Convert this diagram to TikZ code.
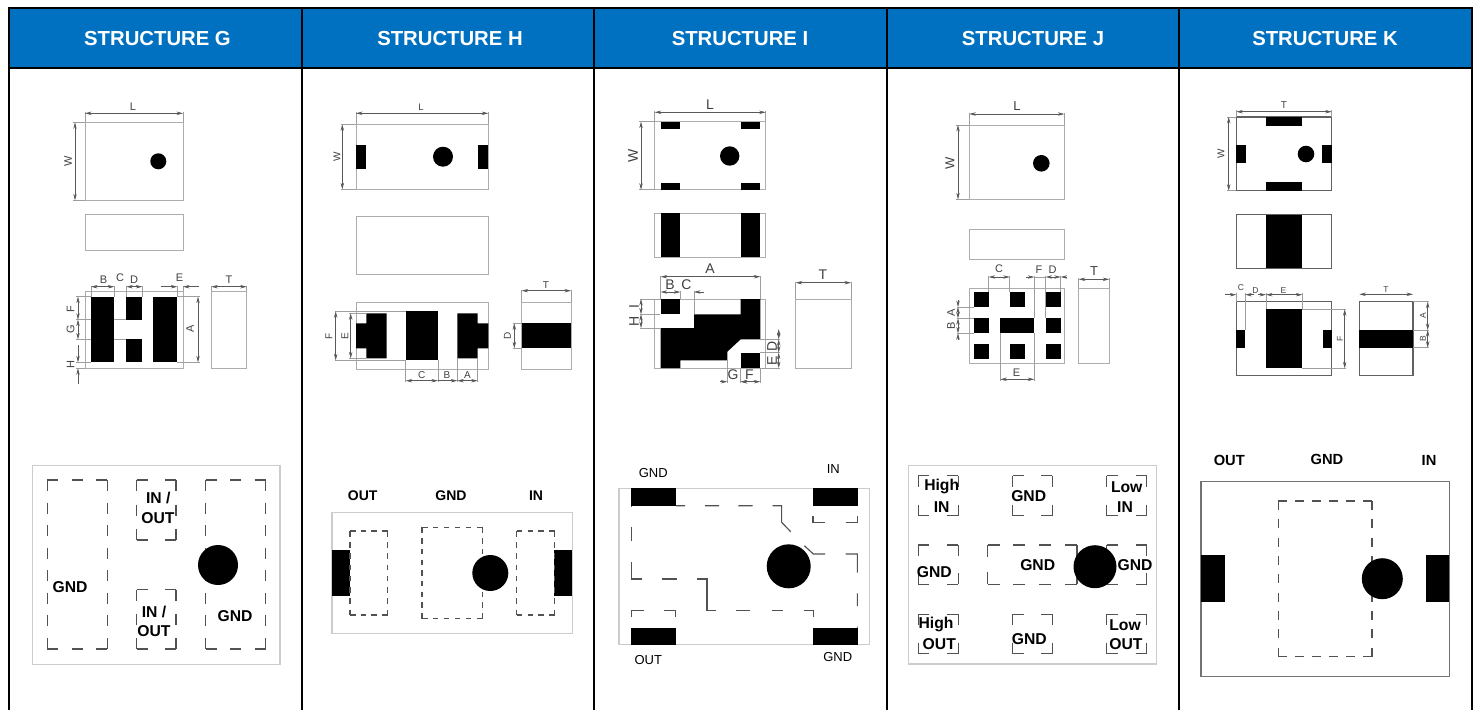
\documentclass[tikz,border=0pt]{standalone}
\usepackage{fontspec}
\setmainfont{Liberation Sans}
\usetikzlibrary{arrows.meta}
\definecolor{hdr}{HTML}{0070C0}
\tikzset{
 outl/.style={draw=black!32,line width=.9pt},
 outk/.style={draw=black!62,line width=1.1pt},
 boxl/.style={draw=black!20,line width=1.1pt},
 dimln/.style={draw=black!65,line width=.55pt,{Stealth[length=6.5pt,width=3.4pt]}-{Stealth[length=6.5pt,width=3.4pt]}},
 dimo/.style={draw=black!65,line width=.55pt,-{Stealth[length=6.5pt,width=3.4pt]}},
 extl/.style={draw=black!38,line width=.5pt},
 dl/.style={inner sep=0pt,text=black!75,font=\fontsize{#1}{#1}\selectfont},
 dr/.style={inner sep=0pt,text=black!75,rotate=90,font=\fontsize{#1}{#1}\selectfont},
 pl/.style={inner sep=0pt,text=black,font=\fontsize{#1}{#1}\selectfont\bfseries},
 pr/.style={inner sep=0pt,text=black,font=\fontsize{#1}{#1}\selectfont},
 hd/.style={inner sep=0pt,text=white,font=\fontsize{20.3}{20.3}\selectfont\bfseries},
 dashln/.style={draw=black!68,line width=1.15pt},
 frame/.style={draw=black,line width=2pt},
}
% one side of a dashed box: starts and ends with a dash
\newcommand\dseg[5]{%
 \pgfmathsetmacro\seglen{veclen(#4-#2,#5-#3)}%
 \pgfmathsetmacro\segn{max(2,round((\seglen+#1)/(2*#1)))}%
 \pgfmathsetmacro\seggap{(\seglen-\segn*#1)/(\segn-1)}%
 \draw[dashln,dash pattern=on #1pt off \seggap pt] (#2,#3) -- (#4,#5);}
\newcommand\drect[5]{%
 \dseg{#1}{#2}{#3}{#4}{#3}\dseg{#1}{#2}{#5}{#4}{#5}%
 \dseg{#1}{#2}{#3}{#2}{#5}\dseg{#1}{#4}{#3}{#4}{#5}}
\newcommand\dotc[3]{\fill[black] (#1,#2) circle[radius=#3pt];}
\newcommand\pad[4]{\fill[black] (#1,#2) rectangle (#3,#4);}
\begin{document}
\begin{tikzpicture}[x=1pt,y=-1pt]
\useasboundingbox (0,0) rectangle (1477,710);
\fill[white] (0,0) rectangle (1477,710);
% header
\fill[hdr] (9,8) rectangle (1472,68);
\draw[frame] (9,8) -- (1472,8);
\draw[frame] (9,68) -- (1472,68);
\foreach \x in {9,302,594,887,1179,1472}{\draw[frame] (\x,7) -- (\x,710);}
\node[hd] (hG) at (157.5,38.5) {STRUCTURE G};
\node[hd] (hH) at (450,38.5) {STRUCTURE H};
\node[hd] (hI) at (740,38.5) {STRUCTURE I};
\node[hd] (hJ) at (1033,38.5) {STRUCTURE J};
\node[hd] (hK) at (1325,38.5) {STRUCTURE K};

% ---------- G ----------
\draw[outl] (85,122.3) rectangle (183,200.3);
\dotc{158.3}{161.3}{8}
\draw[extl] (85,112)--(85,122) (183,112)--(183,122) (73,122.3)--(85,122.3) (73,200.3)--(85,200.3);
\draw[dimln] (85,113.3)--(183,113.3);
\draw[dimln] (75,122.3)--(75,200.3);
\node[dl=11] at (133,107) {L};
\node[dr=11] at (68,161) {W};
\draw[outl] (85,214.7) rectangle (183,250.3);
\draw[outl] (85,291) rectangle (183,368.3);
\pad{91}{296.7}{114.3}{362.3}
\pad{126.3}{296.7}{142.3}{319.7}
\pad{126.3}{339.3}{142.3}{362.3}
\pad{153.3}{296.7}{177.3}{362.3}
\draw[outl] (211.3,291) rectangle (246.7,368.3);
\draw[extl] (91,286)--(91,297) (114.3,286)--(114.3,297) (126.3,286)--(126.3,297) (142.3,286)--(142.3,297) (177.3,286)--(177.3,297) (183,286)--(183,291) (211.3,286)--(211.3,291) (246.7,286)--(246.7,291);
\draw[extl] (177,296.7)--(200,296.7) (177,362.3)--(200,362.3);
\draw[extl] (76,296.7)--(91,296.7) (76,319.7)--(91,319.7) (114.3,319.7)--(126.3,319.7) (76,339.3)--(91,339.3) (114.3,339.3)--(126.3,339.3) (76,362.3)--(91,362.3) (76,368.3)--(85,368.3);
\draw[dimln] (91,286.7)--(114.3,286.7);
\draw[dimln] (126.3,286.7)--(142.3,286.7);
\draw[dimo] (160.7,286.7)--(177.3,286.7);
\draw[dimo] (199,286.7)--(183,286.7);
\draw[dimln] (211.3,286.7)--(246.7,286.7);
\draw[dimln] (198,296.7)--(198,362.3);
\draw[dimln] (78,296.7)--(78,319.7);
\draw[dimln] (78,319.7)--(78,339.3);
\draw[dimo] (78,345)--(78,362.3);
\draw[dimo] (78,384)--(78,368.3);
\node[dl=11] at (103.5,279.5) {B};
\node[dl=11] at (120,278) {C};
\node[dl=11] at (134,279.5) {D};
\node[dl=11] at (179.5,278) {E};
\node[dl=11] at (229,279.5) {T};
\node[dr=11] at (190,329) {A};
\node[dr=11] at (70.5,309) {F};
\node[dr=11] at (70.5,329) {G};
\node[dr=11] at (70.5,365) {H};
% pinout G
\draw[boxl] (32.7,465.7) rectangle (280,664.3);
\drect{11}{47.3}{480}{107.3}{649}
\drect{11}{136.7}{480}{176}{540}
\drect{11}{136.7}{589.7}{176}{649}
\drect{11}{205.7}{480}{265.7}{649}
\dotc{218}{565}{20}
\node[pl=15.7] at (70,587.3) {GND};
\node[pl=15.7] at (158.3,498.3) {IN /};
\node[pl=15.7] at (158,518) {OUT};
\node[pl=15.7] at (154,611.7) {IN /};
\node[pl=15.7] at (154,630.7) {OUT};
\node[pl=15.7] at (235,616) {GND};

% ---------- H ----------
\draw[outl] (356,124.3) rectangle (488.3,189.3);
\pad{356}{144.7}{366.3}{169.3}
\pad{477.7}{144.7}{488.3}{169.3}
\dotc{443}{156.7}{10}
\draw[extl] (356,112)--(356,124) (488.3,112)--(488.3,124) (341,124.3)--(356,124.3) (341,189.3)--(356,189.3);
\draw[dimln] (356,113.3)--(488.3,113.3);
\draw[dimln] (342.3,124.3)--(342.3,189.3);
\node[dl=9.5] at (421,107) {L};
\node[dr=10] at (337,157) {W};
\draw[outl] (356,216.7) rectangle (488.3,274.3);
\draw[outl] (356,302.3) rectangle (488.3,369);
\fill[black] (356,323.3)--(366.3,323.3)--(366.3,313.3)--(386.7,313.3)--(386.7,358.3)--(366.3,358.3)--(366.3,348.3)--(356,348.3)--cycle;
\pad{405.7}{311.3}{438}{360.3}
\fill[black] (488.3,323.3)--(477.7,323.3)--(477.7,313.3)--(457.3,313.3)--(457.3,358.3)--(477.7,358.3)--(477.7,348.3)--(488.3,348.3)--cycle;
\draw[outl] (521.7,302.3) rectangle (571,369);
\pad{521.7}{323.3}{571}{348.3}
\draw[extl] (521.7,290)--(521.7,302) (571,290)--(571,302) (513,323.3)--(522,323.3) (513,348.3)--(522,348.3);
\draw[dimln] (521.7,290.7)--(571,290.7);
\draw[dimln] (514.3,323.3)--(514.3,348.3);
\node[dl=10] at (546,285) {T};
\node[dr=10] at (507.5,336) {D};
\draw[extl] (335,311.3)--(405.7,311.3) (335,360.3)--(405.7,360.3) (349,313.3)--(366,313.3) (349,358.3)--(366,358.3);
\draw[dimln] (335.7,311.3)--(335.7,360.3);
\draw[dimln] (350.7,313.3)--(350.7,358.3);
\node[dr=10] at (329,336) {F};
\node[dr=10] at (345,336) {E};
\draw[extl] (405.7,360)--(405.7,382) (438,360)--(438,382) (457.3,358)--(457.3,382) (477.7,358)--(477.7,382);
\draw[dimln] (405.7,380.7)--(438,380.7);
\draw[dimo] (438,380.7)--(457.3,380.7);
\draw[dimln] (457.3,380.7)--(477.7,380.7);
\node[dl=10] at (421.7,375) {C};
\node[dl=10] at (447,375) {B};
\node[dl=10] at (467.5,375) {A};
% pinout H
\draw[boxl] (332,512.3) rectangle (572.3,633.7);
\pad{332}{550.3}{350}{595.7}
\pad{554.3}{550.3}{572.3}{595.7}
\drect{5.5}{350}{531}{387.7}{615}
\drect{5.5}{422}{527.3}{482.3}{618.7}
\drect{5.5}{516.7}{531}{554.7}{615}
\dotc{490.3}{573}{18}
\node[pl=14] at (362.7,496) {OUT};
\node[pl=14] at (451,496) {GND};
\node[pl=14] at (536,496) {IN};

% ---------- I ----------
\draw[outl] (654.7,121.7) rectangle (765.7,189.7);
\pad{660.7}{121.7}{680.3}{129.3}
\pad{740.7}{121.7}{760.3}{129.3}
\pad{660.7}{182.7}{680.3}{189.7}
\pad{740.7}{182.7}{760.3}{189.7}
\dotc{729.7}{156}{9.7}
\draw[extl] (654.7,111)--(654.7,121) (765.7,111)--(765.7,121) (639,121.7)--(655,121.7) (639,189.7)--(655,189.7);
\draw[dimln] (654.7,112.3)--(765.7,112.3);
\draw[dimln] (641,121.7)--(641,189.7);
\node[dl=14] at (710,105) {L};
\node[dr=14] at (633,156) {W};
\draw[outl] (654.7,213) rectangle (765.7,257);
\pad{660.7}{213}{680.3}{257}
\pad{740.7}{213}{760.3}{257}
\draw[outl] (654.7,299) rectangle (765.7,368);
\pad{660.7}{299}{680.3}{314.3}
\fill[black] (660.7,328)--(694,328)--(694,314.3)--(740.7,314.3)--(740.7,299)--(760.3,299)--(760.3,339.3)--(740.7,339.3)--(727.3,351.7)--(727.3,360.3)--(680.3,360.3)--(680.3,368)--(660.7,368)--cycle;
\pad{740.7}{352.7}{760.3}{368}
\draw[outl] (795.7,299) rectangle (851,368);
\draw[extl] (795.7,282)--(795.7,299) (851,282)--(851,299) (660.7,276)--(660.7,299) (760.3,276)--(760.3,299) (680.3,291)--(680.3,299) (694,291)--(694,314);
\draw[dimln] (795.7,282.7)--(851,282.7);
\draw[dimln] (660.7,276.7)--(760.3,276.7);
\draw[dimln] (660.7,292)--(680.3,292);
\draw[dimo] (704,292)--(694,292);
\node[dl=14] at (823,275) {T};
\node[dl=14] at (710,269) {A};
\node[dl=14] at (670,285) {B};
\node[dl=14] at (686.5,285) {C};
\draw[extl] (640,299)--(660,299) (640,314.3)--(660,314.3) (640,328)--(660,328);
\draw[dimln] (641,299)--(641,314.3);
\draw[dimln] (641,314.3)--(641,328);
\node[dr=14] at (634,307) {I};
\node[dr=14] at (634,321) {H};
\draw[extl] (760,339.3)--(780,339.3) (760,352.7)--(780,352.7) (760,368)--(780,368);
\draw[dimln] (778.7,329)--(778.7,339.3);
\draw[dimln] (778.7,339.3)--(778.7,352.7);
\draw[dimln] (778.7,352.7)--(778.7,368);
\node[dr=14] at (772,346) {D};
\node[dr=14] at (772,361) {E};
\draw[extl] (727.3,360)--(727.3,383) (740.7,368)--(740.7,383) (760.3,368)--(760.3,383);
\draw[dimo] (720,381.7)--(727.3,381.7);
\draw[dimo] (748,381.7)--(740.7,381.7);
\draw[dimln] (740.7,381.7)--(760.3,381.7);
\node[dl=14] at (733,375) {G};
\node[dl=14] at (749.5,375) {F};
% pinout I
\draw[boxl] (619,488.3) rectangle (869.7,644.7);
\pad{631}{488.3}{676}{505.7}
\pad{813}{488.3}{857.7}{505.7}
\pad{631}{627.7}{676}{644.7}
\pad{813}{627.7}{857.7}{644.7}
\begin{scope}[shift={(595,450)},x=.33333pt,y=-.33333pt]
\draw[dashln] (243,167)--(270,167) (330,167)--(372,167) (430,167)--(473,167) (533,167)--(560,167)--(560,217)--(587,245);
\draw[dashln] (628,287)--(655,312)--(690,312) (752,312)--(787,312)--(787,368) (787,430)--(787,468) (787,530)--(787,533);
\draw[dashln] (656,500)--(656,481)--(628,481) (530,481)--(565,481) (423,481)--(465,481) (362,481)--(336,481)--(336,387)--(305,387) (200,387)--(245,387) (142,387)--(110,387)--(110,335) (110,232)--(110,272) (110,167)--(110,172);
\draw[dashln] (654,198)--(654,218)--(690,218) (752,218)--(787,218)--(787,198);
\draw[dashln] (110,500)--(110,481)--(147,481) (207,481)--(241,481)--(241,500);
\end{scope}
\dotc{788.7}{566.3}{22}
\node[pr=13] at (653.3,473.3) {GND};
\node[pr=13] at (833.3,469) {IN};
\node[pr=13] at (648.3,660) {OUT};
\node[pr=13] at (837.7,656.7) {GND};

% ---------- J ----------
\draw[outl] (969.3,125) rectangle (1064.3,199.3);
\dotc{1041.3}{163.3}{8.3}
\draw[extl] (969.3,113)--(969.3,125) (1064.3,113)--(1064.3,125) (956,125)--(969,125) (956,199.3)--(969,199.3);
\draw[dimln] (969.3,114)--(1064.3,114);
\draw[dimln] (958,125)--(958,199.3);
\node[dl=13] at (1017,106) {L};
\node[dr=13] at (950,163) {W};
\draw[outl] (969.3,229.3) rectangle (1064.3,259.3);
\draw[outl] (969.3,288.3) rectangle (1064.3,363.3);
\foreach \xa/\xb in {973.7/988.7,1009.7/1024.7,1045.7/1060.7}{
 \pad{\xa}{291.7}{\xb}{307}
 \pad{\xa}{344.3}{\xb}{359.3}}
\pad{973.7}{318.3}{988.7}{333.3}
\pad{1000.3}{318.3}{1034.3}{333.3}
\pad{1045.7}{318.3}{1060.7}{333.3}
\draw[outl] (1078.7,288.3) rectangle (1109.3,363.3);
\draw[extl] (1078.7,278)--(1078.7,288) (1109.3,278)--(1109.3,288) (988.7,276)--(988.7,292) (1009.7,276)--(1009.7,292) (1034.3,276)--(1034.3,318) (1045.7,276)--(1045.7,318) (1060.7,276)--(1060.7,292);
\draw[dimln] (1078.7,279.3)--(1109.3,279.3);
\draw[dimln] (988.7,277)--(1009.7,277);
\draw[dimo] (1026.3,277)--(1034.3,277);
\draw[dimln] (1045.7,277)--(1060.7,277);
\draw[dimo] (1067,277)--(1060.7,277);
\draw[extl] (1034.3,277)--(1045.7,277);
\node[dl=11] at (999,269) {C};
\node[dl=11] at (1039,269.5) {F};
\node[dl=11] at (1052.5,269.5) {D};
\node[dl=13] at (1094,271) {T};
\draw[extl] (957,307)--(974,307) (957,318.3)--(974,318.3) (957,333.3)--(974,333.3);
\draw[dimo] (958,300)--(958,307);
\draw[dimln] (958,318.3)--(958,333.3);
\draw[dimln] (958,307)--(958,318.3);
\draw[dimo] (958,340)--(958,333.3);
\node[dr=11] at (951,313) {A};
\node[dr=11] at (951,326) {B};
\draw[extl] (1000.3,333)--(1000.3,381) (1034.3,333)--(1034.3,381);
\draw[dimln] (1000.3,379.3)--(1034.3,379.3);
\node[dl=11] at (1016.5,373) {E};
% pinout J
\draw[boxl] (908.3,465.7) rectangle (1156.7,664);
\foreach \xa/\xb in {918.3/958.3,1012.7/1052.3,1106.7/1146.7}{
 \drect{11}{\xa}{475.7}{\xb}{515.7}
 \drect{11}{\xa}{614.3}{\xb}{653.7}}
\drect{11}{918.3}{545}{958.3}{584.3}
\drect{12}{987.7}{545}{1077}{584.3}
\drect{11}{1106.7}{545}{1146.7}{584.3}
\dotc{1095}{566.7}{21.5}
\node[pl=15.7] at (941.7,486.7) {High};
\node[pl=15.7] at (941.7,507.3) {IN};
\node[pl=15.7] at (1028.7,496) {GND};
\node[pl=15.7] at (1126.7,486.7) {Low};
\node[pl=15.7] at (1125,507.3) {IN};
\node[pl=15.7] at (934.3,572.3) {GND};
\node[pl=15.7] at (1037.7,565) {GND};
\node[pl=15.7] at (1135,565) {GND};
\node[pl=15.7] at (936,624.7) {High};
\node[pl=15.7] at (939.3,644.3) {OUT};
\node[pl=15.7] at (1029.3,638.7) {GND};
\node[pl=15.7] at (1125,625) {Low};
\node[pl=15.7] at (1126,644.3) {OUT};

% ---------- K ----------
\draw[outk] (1236.3,117) rectangle (1331.7,190.7);
\pad{1266}{117}{1302.3}{126.3}
\pad{1266}{181.7}{1302.3}{190.7}
\pad{1236.3}{145}{1246}{163}
\pad{1322.3}{145}{1331.7}{163}
\dotc{1306}{154}{8.3}
\draw[extl] (1236.3,110)--(1236.3,117) (1331.7,110)--(1331.7,117) (1227,117)--(1236,117) (1227,190.7)--(1236,190.7);
\draw[dimln] (1236.3,111.7)--(1331.7,111.7);
\draw[dimln] (1228.7,117)--(1228.7,190.7);
\node[dl=10] at (1284,105) {T};
\node[dr=10] at (1221,154) {W};
\draw[outk] (1236.3,214.7) rectangle (1331.7,268.3);
\pad{1266}{214.7}{1302.3}{268.3}
\draw[outk] (1236.3,301.7) rectangle (1331.7,375.7);
\pad{1266}{309.3}{1302.3}{368.3}
\pad{1236.3}{330}{1245.3}{347.7}
\pad{1322.7}{330}{1331.7}{347.7}
\draw[outk] (1359.3,301.7) rectangle (1413,375.7);
\pad{1359.3}{330}{1413}{347.7}
\draw[extl] (1236.3,293)--(1236.3,302) (1245.3,293)--(1245.3,330) (1266,293)--(1266,309) (1302.3,293)--(1302.3,309);
\draw[dimo] (1225,294.7)--(1236.3,294.7);
\draw[dimo] (1254,294.7)--(1245.3,294.7);
\draw[dimo] (1258,294.7)--(1266,294.7);
\draw[dimln] (1266,294.7)--(1302.3,294.7);
\draw[dimln] (1359.3,294.3)--(1413,294.3);
\node[dl=8.5] at (1241,288) {C};
\node[dl=8.5] at (1255.5,291) {D};
\node[dl=8.5] at (1283.5,291) {E};
\node[dl=8.5] at (1386,290) {T};
\draw[extl] (1302,309.3)--(1346,309.3) (1302,368.3)--(1346,368.3);
\draw[dimln] (1344.7,309.3)--(1344.7,368.3);
\node[dr=8.5] at (1340,339) {F};
\draw[extl] (1413,301.7)--(1429,301.7) (1413,330)--(1429,330) (1413,347.7)--(1429,347.7);
\draw[dimln] (1427.7,301.7)--(1427.7,330);
\draw[dimln] (1427.7,330)--(1427.7,347.7);
\node[dr=8.5] at (1423,316) {A};
\node[dr=8.5] at (1423,339) {B};
% pinout K
\draw[outk,draw=black!55] (1201,481.3) rectangle (1449.3,676.3);
\pad{1201}{555.3}{1224.7}{602.3}
\pad{1425.7}{555.3}{1449.3}{602.3}
\drect{9}{1278.3}{501}{1372}{656.7}
\dotc{1382.3}{578.7}{20.5}
\node[pl=14.7] at (1229.3,460.3) {OUT};
\node[pl=14.7] at (1327,459.3) {GND};
\node[pl=14.7] at (1429,460.3) {IN};
\end{tikzpicture}
\end{document}
